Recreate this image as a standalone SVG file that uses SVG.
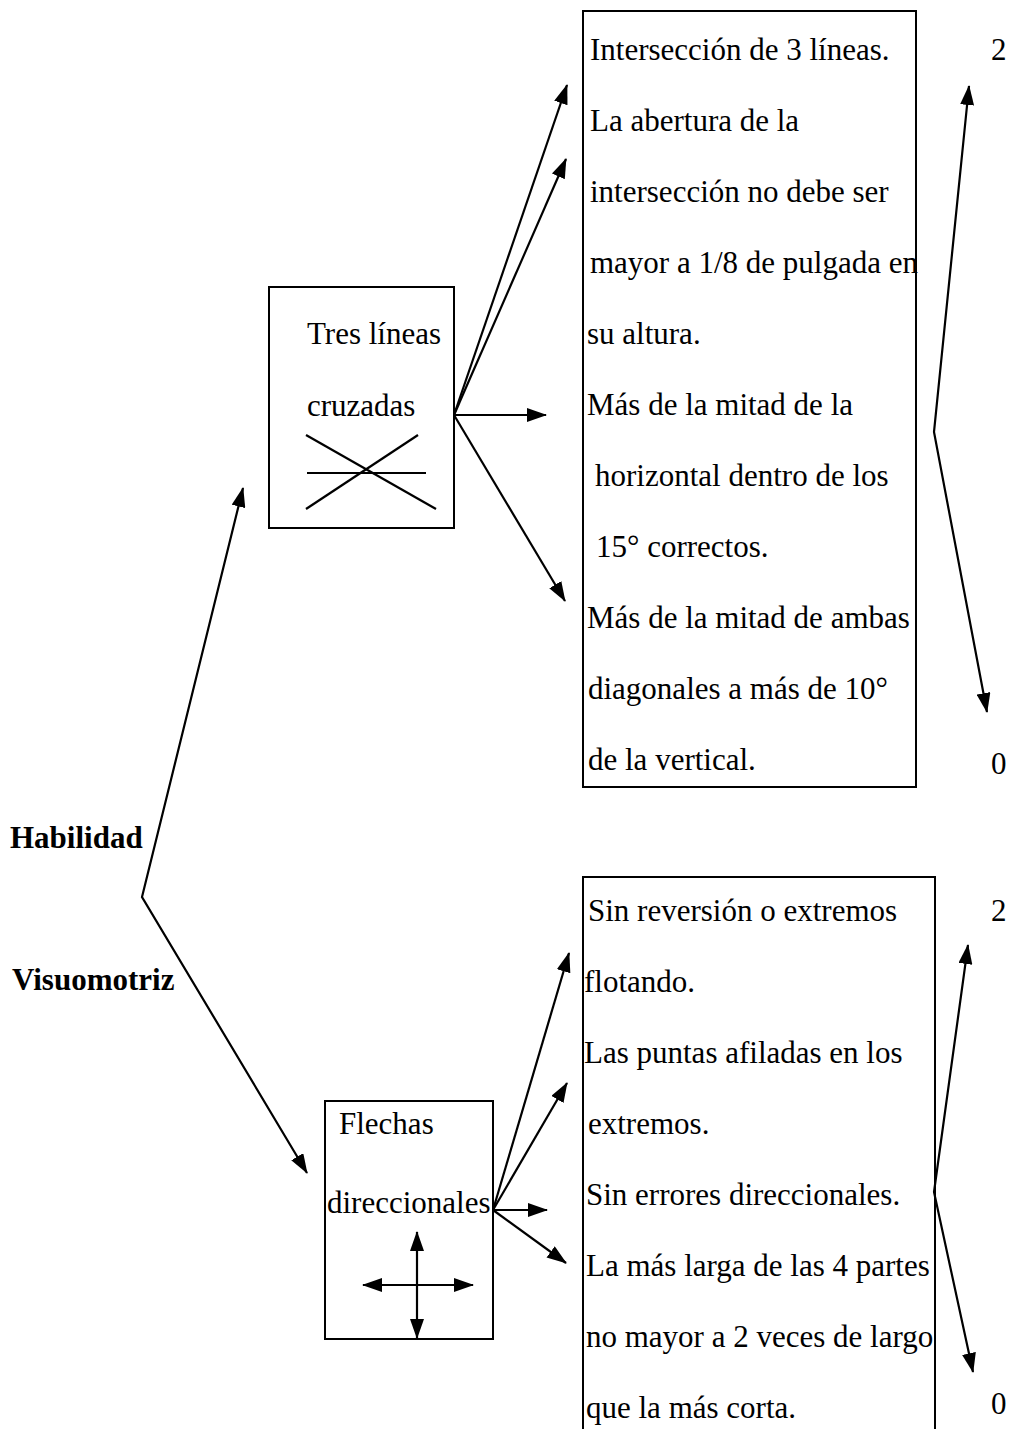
<svg xmlns="http://www.w3.org/2000/svg" width="1014" height="1429" viewBox="0 0 1014 1429">
<style>
text{font-family:"Liberation Serif","Times New Roman",serif;font-size:31px;fill:#000}
.b{font-weight:bold;font-size:31px}
.box{fill:#fff;stroke:#000;stroke-width:2}
.ln{fill:none;stroke:#000;stroke-width:2.2}
</style>
<defs>
<marker id="ah" viewBox="0 0 20 14" refX="19" refY="7" markerWidth="20" markerHeight="14" markerUnits="userSpaceOnUse" orient="auto">
<path d="M0,0 L20,7 L0,14 Z" fill="#000"/>
</marker>
<marker id="as" viewBox="0 0 20 14" refX="19" refY="7" markerWidth="20" markerHeight="14" markerUnits="userSpaceOnUse" orient="auto-start-reverse">
<path d="M0,0 L20,7 L0,14 Z" fill="#000"/>
</marker>
</defs>
<rect width="1014" height="1429" fill="#fff"/>

<g id="root-label">
<text class="b" x="10" y="848">Habilidad</text>
<text class="b" x="12" y="990">Visuomotriz</text>
</g>

<g id="node-tres">
<rect class="box" x="269" y="287" width="185" height="241"/>
<text x="307" y="344">Tres líneas</text>
<text x="307" y="416">cruzadas</text>
<line class="ln" x1="307" y1="473" x2="426" y2="473"/>
<line class="ln" x1="306" y1="435" x2="436" y2="509"/>
<line class="ln" x1="306" y1="509" x2="418" y2="435"/>
</g>

<g id="node-criterios-tres">
<rect class="box" x="583" y="11" width="333" height="776"/>
<text x="590" y="60">Intersección de 3 líneas.</text>
<text x="590" y="131">La abertura de la</text>
<text x="590" y="202">intersección no debe ser</text>
<text x="590" y="273">mayor a 1/8 de pulgada en</text>
<text x="587" y="344">su altura.</text>
<text x="587" y="415">Más de la mitad de la</text>
<text x="595" y="486">horizontal dentro de los</text>
<text x="596" y="557">15° correctos.</text>
<text x="587" y="628">Más de la mitad de ambas</text>
<text x="588" y="699">diagonales a más de 10°</text>
<text x="588" y="770">de la vertical.</text>
</g>

<g id="score-tres">
<text x="991" y="60">2</text>
<text x="991" y="774">0</text>
</g>

<g id="node-flechas">
<rect class="box" x="325" y="1101" width="168" height="238"/>
<text x="339" y="1134">Flechas</text>
<text x="327" y="1213">direccionales</text>
<line class="ln" x1="417" y1="1232" x2="417" y2="1338" marker-start="url(#as)" marker-end="url(#ah)"/>
<line class="ln" x1="363" y1="1285" x2="473" y2="1285" marker-start="url(#as)" marker-end="url(#ah)"/>
</g>

<g id="node-criterios-flechas">
<rect class="box" x="583" y="877" width="352" height="560"/>
<text x="588" y="921">Sin reversión o extremos</text>
<text x="584" y="992">flotando.</text>
<text x="584" y="1063">Las puntas afiladas en los</text>
<text x="588" y="1134">extremos.</text>
<text x="586" y="1205">Sin errores direccionales.</text>
<text x="586" y="1276">La más larga de las 4 partes</text>
<text x="586" y="1347">no mayor a 2 veces de largo</text>
<text x="586" y="1418">que la más corta.</text>
</g>

<g id="score-flechas">
<text x="991" y="921">2</text>
<text x="991" y="1414">0</text>
</g>

<g id="connectors">
<polyline class="ln" points="243,488 142,897 307,1173" marker-start="url(#as)" marker-end="url(#ah)"/>
<line class="ln" x1="454" y1="415" x2="567" y2="85" marker-end="url(#ah)"/>
<line class="ln" x1="454" y1="415" x2="566" y2="159" marker-end="url(#ah)"/>
<line class="ln" x1="454" y1="415" x2="546" y2="415" marker-end="url(#ah)"/>
<line class="ln" x1="454" y1="415" x2="565" y2="601" marker-end="url(#ah)"/>
<polyline class="ln" points="969,86 934,432 987,712" marker-start="url(#as)" marker-end="url(#ah)"/>
<line class="ln" x1="493" y1="1210" x2="569" y2="953" marker-end="url(#ah)"/>
<line class="ln" x1="493" y1="1210" x2="567" y2="1083" marker-end="url(#ah)"/>
<line class="ln" x1="493" y1="1210" x2="547" y2="1210" marker-end="url(#ah)"/>
<line class="ln" x1="493" y1="1210" x2="566" y2="1263" marker-end="url(#ah)"/>
<polyline class="ln" points="968,945 934,1192 973,1372" marker-start="url(#as)" marker-end="url(#ah)"/>
</g>
</svg>
